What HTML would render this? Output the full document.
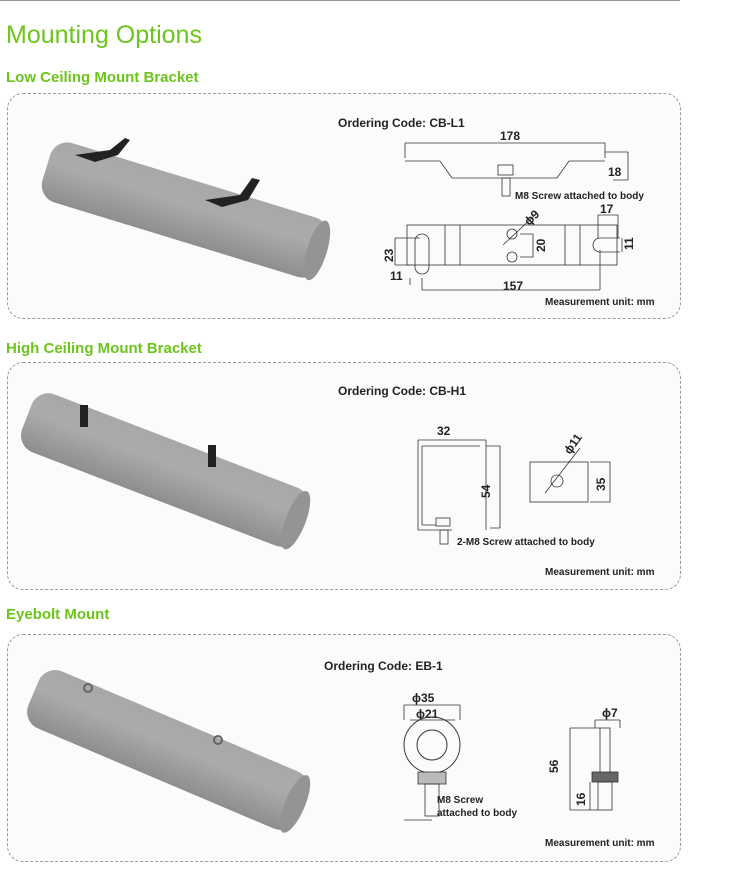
<!DOCTYPE html>
<html><head><style>
body{margin:0;width:729px;height:876px;background:#fff;font-family:"Liberation Sans",sans-serif;position:relative;overflow:hidden}
.t{position:absolute;white-space:nowrap}
.g{color:#6cc51a;font-weight:bold}
.box{position:absolute;left:7px;width:672px;border:1px dashed #9a9a9a;border-radius:16px;background:#f9fbfd}
svg{position:absolute;left:0;top:0}
</style></head><body>
<div style="position:absolute;left:0;top:0;width:680px;height:1px;background:#999"></div>
<div class="t g" style="left:6px;top:21px;font-size:25px;font-weight:normal">Mounting Options</div>
<div class="t g" style="left:6px;top:69px;font-size:15px">Low Ceiling Mount Bracket</div>
<div class="t g" style="left:6px;top:340px;font-size:15px">High Ceiling Mount Bracket</div>
<div class="t g" style="left:6px;top:606px;font-size:15px">Eyebolt Mount</div>
<div class="box" style="top:93px;height:224px"></div>
<div class="box" style="top:362px;height:226px"></div>
<div class="box" style="top:634px;height:226px"></div>
<svg width="729" height="876" font-family="Liberation Sans" font-size="11" fill="none" stroke="#333" stroke-width="0.8">
<defs><linearGradient id="lg" x1="0" y1="0" x2="0" y2="1"><stop offset="0" stop-color="#a8a8a8"/><stop offset="0.4" stop-color="#ababab"/><stop offset="1" stop-color="#8e8e8e"/></linearGradient></defs>
<g transform="translate(185,210) rotate(17)" stroke="none"><rect x="-145" y="-31" width="290" height="62" rx="18" fill="url(#lg)"/><ellipse cx="138" cy="0" rx="10" ry="31" fill="#949494"/></g>
<g transform="translate(165,470) rotate(21)" stroke="none"><rect x="-148" y="-31" width="296" height="62" rx="18" fill="url(#lg)"/><ellipse cx="140" cy="0" rx="10" ry="31" fill="#949494"/></g>
<g transform="translate(168,750) rotate(23)" stroke="none"><rect x="-146" y="-31" width="292" height="62" rx="18" fill="url(#lg)"/><ellipse cx="138" cy="0" rx="10" ry="31" fill="#949494"/></g>
<g fill="#222" stroke="none"><polygon points="75,155 110,150 125,138 130,140 118,155 95,162"/><polygon points="205,200 240,195 252,178 260,180 248,200 222,207"/>
<rect x="80" y="405" width="8" height="22"/><rect x="208" y="445" width="8" height="22"/></g>
<g stroke="#666" stroke-width="2"><circle cx="88" cy="688" r="4"/><circle cx="218" cy="740" r="4"/></g>
<g fill="#222" stroke="none" font-weight="bold" font-size="12">
<text x="338" y="127">Ordering Code: CB-L1</text>
<text x="338" y="395">Ordering Code: CB-H1</text>
<text x="324" y="670">Ordering Code: EB-1</text>
<text x="545" y="305" font-size="10">Measurement unit: mm</text>
<text x="545" y="575" font-size="10">Measurement unit: mm</text>
<text x="545" y="846" font-size="10">Measurement unit: mm</text>
<text x="500" y="140">178</text><text x="608" y="176">18</text>
<text x="515" y="199" font-size="10">M8 Screw attached to body</text>
<text x="600" y="213">17</text><text x="390" y="280">11</text><text x="503" y="290">157</text>
<text x="437" y="435">32</text>
<text x="457" y="545" font-size="10">2-M8 Screw attached to body</text>
<text x="412" y="702">ϕ35</text><text x="416" y="718">ϕ21</text>
<text x="437" y="803" font-size="10">M8 Screw</text><text x="437" y="816" font-size="10">attached to body</text>
<text x="602" y="717">ϕ7</text>
</g>
<g fill="#222" stroke="none" font-weight="bold" font-size="12">
<text transform="translate(393,262) rotate(-90)">23</text>
<text transform="translate(545,252) rotate(-90)">20</text>
<text transform="translate(633,250) rotate(-90)">11</text>
<text transform="translate(529,226) rotate(-45)">ϕ9</text>
<text transform="translate(490,498) rotate(-90)">54</text>
<text transform="translate(605,491) rotate(-90)">35</text>
<text transform="translate(570,455) rotate(-55)">ϕ11</text>
<text transform="translate(558,773) rotate(-90)">56</text>
<text transform="translate(585,806) rotate(-90)">16</text>
</g>
<path d="M405,161 H440 L452,178 H557 L569,161 H605"/>
<rect x="498" y="165" width="15" height="10"/><rect x="502" y="178" width="8" height="18"/>
<path d="M405,143 V158 M605,143 V158 M405,143 H605 M605,152 H628 V180 M613,180 H628"/>
<rect x="407" y="225" width="210" height="40"/>
<path d="M445,225 V265 M460,225 V265 M565,225 V265 M580,225 V265"/>
<rect x="415" y="234" width="14" height="40" rx="7"/>
<path d="M600,238 H620 M600,252 H620 M600,238 A7,7 0 0 0 600,252"/>
<circle cx="512" cy="234" r="5"/><circle cx="512" cy="257" r="5"/>
<path d="M395,238 H420 M395,265 H410 M395,238 V265 M520,234 H533 V257 H520 M503,245 L535,215 M598,215 H618 M598,215 V238 M618,215 V238 M622,238 V252 M410,278 V285 M422,278 V290 M422,290 H600 M600,250 V290"/>
<path d="M418,440 H486 M418,440 V530 M486,440 V530 M422,446 H480 M422,446 V525 M422,525 H436 M418,530 H452"/>
<rect x="436" y="518" width="14" height="8"/><rect x="440" y="530" width="8" height="14"/>
<path d="M486,446 H500 V528 H490"/>
<rect x="530" y="462" width="58" height="40"/><circle cx="557" cy="481" r="6"/><path d="M545,493 L580,448 M590,462 H610 V502 H590"/>
<path d="M404,705 H460 M404,705 V720 M460,705 V720 M410,720 H455"/>
<circle cx="432" cy="745" r="28" stroke-width="1"/><circle cx="432" cy="745" r="15" stroke-width="1"/>
<rect x="418" y="772" width="28" height="12" fill="#bbb"/><rect x="425" y="784" width="14" height="32"/>
<path d="M404,820 H432"/>
<rect x="600" y="728" width="10" height="45"/><rect x="592" y="772" width="26" height="10" fill="#666"/><rect x="598" y="782" width="14" height="28"/>
<path d="M595,720 H620 M595,720 V728 M620,720 V728 M570,728 H600 M570,728 V810 M570,810 H598 M590,782 V810"/>
</svg>
</body></html>
